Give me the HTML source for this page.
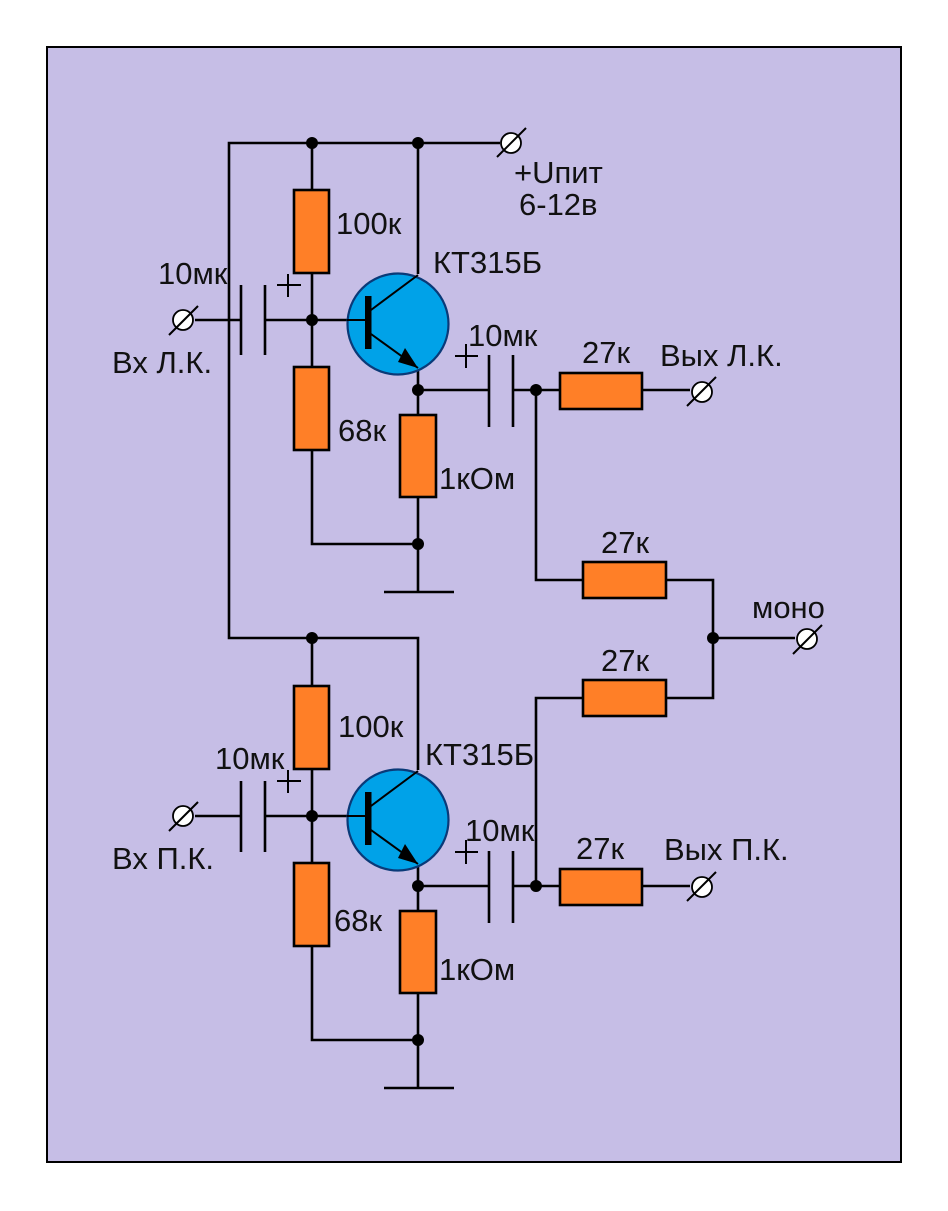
<!DOCTYPE html>
<html><head><meta charset="utf-8"><style>
html,body{margin:0;padding:0;background:#fff}
svg{display:block}
text{font-family:"Liberation Sans",sans-serif;font-size:31px;fill:#111}
.w{stroke:#000;stroke-width:2.6;fill:none}
.r{fill:#ff7f27;stroke:#000;stroke-width:2.6}
.d{fill:#000}
.t{fill:#fff;stroke:#000;stroke-width:1.8}
.s{stroke:#000;stroke-width:2;fill:none}
.c{fill:#00a2e8;stroke:#0a3a78;stroke-width:2.2}
</style></head><body>
<svg width="948" height="1211" viewBox="0 0 948 1211" xmlns="http://www.w3.org/2000/svg">
<rect x="47" y="47" width="854" height="1115" fill="#c6bee6" stroke="#000" stroke-width="2"/>

<!-- wiring -->
<path class="w" d="M500 143H229V638H418V770M312 143V190M418 143V274M312 273V367M195 320H241M265 320H368M312 450V544H418M418 368V415M418 497V592M384 592H454M418 390H489M513 390H560M642 390H690M536 390V580H583M666 580H713V698H666M583 698H536V886M713 638H795"/>
<path class="w" d="M312 638V686M312 769V863M195 816H241M265 816H368M312 946V1040H418M418 864V911M418 993V1088M384 1088H454M418 886H489M513 886H560M642 886H690"/>

<!-- caps -->
<path class="w" d="M241 285V355M265 285V355M489 355V427M513 355V427M241 781V852M265 781V852M489 851V923M513 851V923"/>
<!-- plus -->
<path class="s" d="M277 285H301M288 274V297M455 356H478M466 344V368M277 781H301M288 770V793M455 852H478M466 840V864"/>

<!-- resistors -->
<rect class="r" x="294" y="190" width="35" height="83"/>
<rect class="r" x="294" y="367" width="35" height="83"/>
<rect class="r" x="400" y="415" width="36" height="82"/>
<rect class="r" x="560" y="373" width="82" height="36"/>
<rect class="r" x="583" y="562" width="83" height="36"/>
<rect class="r" x="583" y="680" width="83" height="36"/>
<rect class="r" x="560" y="869" width="82" height="36"/>
<rect class="r" x="294" y="686" width="35" height="83"/>
<rect class="r" x="294" y="863" width="35" height="83"/>
<rect class="r" x="400" y="911" width="36" height="82"/>

<!-- transistors -->
<g>
<circle class="c" cx="398" cy="324" r="50.5"/>
<rect x="365" y="296" width="6.5" height="53" fill="#000"/>
<path class="s" d="M347 320H368M371 310L418 275M371 334L418 368"/>
<path d="M418 368L398 362L405 348Z" fill="#000"/>
</g>
<g>
<circle class="c" cx="398" cy="820" r="50.5"/>
<rect x="365" y="792" width="6.5" height="53" fill="#000"/>
<path class="s" d="M347 816H368M371 806L418 771M371 830L418 864"/>
<path d="M418 864L398 858L405 844Z" fill="#000"/>
</g>

<!-- dots -->
<g class="d">
<circle cx="312" cy="143" r="6"/><circle cx="418" cy="143" r="6"/>
<circle cx="312" cy="320" r="6"/><circle cx="418" cy="390" r="6"/>
<circle cx="536" cy="390" r="6"/><circle cx="418" cy="544" r="6"/>
<circle cx="713" cy="638" r="6"/><circle cx="312" cy="638" r="6"/>
<circle cx="312" cy="816" r="6"/><circle cx="418" cy="886" r="6"/>
<circle cx="536" cy="886" r="6"/><circle cx="418" cy="1040" r="6"/>
</g>

<!-- terminals -->
<g>
<circle class="t" cx="511" cy="143" r="10"/><path class="s" d="M497 157L526 128"/>
<circle class="t" cx="183" cy="320" r="10"/><path class="s" d="M169 335L198 306"/>
<circle class="t" cx="702" cy="392" r="10"/><path class="s" d="M687 406L716 377"/>
<circle class="t" cx="807" cy="639" r="10"/><path class="s" d="M793 654L822 625"/>
<circle class="t" cx="183" cy="816" r="10"/><path class="s" d="M169 831L198 802"/>
<circle class="t" cx="702" cy="887" r="10"/><path class="s" d="M687 901L716 872"/>
</g>

<!-- labels -->
<g transform="translate(0,1)">
<text x="514" y="182">+Uпит</text>
<text x="519" y="214">6-12в</text>
<text x="336" y="233">100к</text>
<text x="433" y="272">КТ315Б</text>
<text x="158" y="283">10мк</text>
<text x="112" y="372">Вх Л.К.</text>
<text x="468" y="345">10мк</text>
<text x="582" y="362">27к</text>
<text x="660" y="365">Вых Л.К.</text>
<text x="338" y="440">68к</text>
<text x="439" y="488">1кОм</text>
<text x="601" y="552">27к</text>
<text x="752" y="617">моно</text>
<text x="601" y="670">27к</text>
<text x="338" y="736">100к</text>
<text x="425" y="764">КТ315Б</text>
<text x="215" y="768">10мк</text>
<text x="112" y="868">Вх П.К.</text>
<text x="465" y="840">10мк</text>
<text x="576" y="858">27к</text>
<text x="664" y="859">Вых П.К.</text>
<text x="334" y="930">68к</text>
<text x="439" y="979">1кОм</text>
</g>
</svg>
</body></html>
